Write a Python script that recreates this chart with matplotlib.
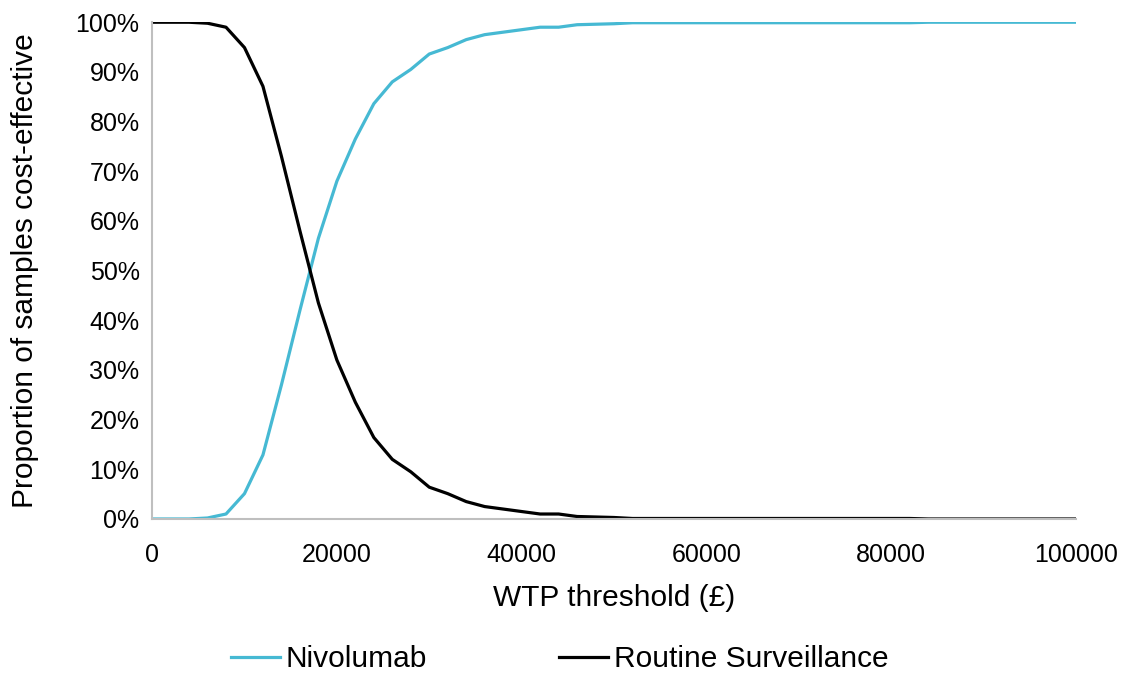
import matplotlib.pyplot as plt
from matplotlib.ticker import FuncFormatter

plt.rcParams['font.family'] = ['Liberation Sans', 'DejaVu Sans']

# WTP thresholds, every 2000 from 0 to 100000
wtp = list(range(0, 100001, 2000))

# proportion cost-effective (%)
nivolumab = [0, 0, 0, 0.2, 1.0, 5.1, 12.9, 27, 42, 56.5, 68, 76.5, 83.6, 88, 90.5,
             93.6, 94.9, 96.5, 97.5, 98, 98.5, 99, 99, 99.5, 99.6, 99.7, 99.9,
             99.9, 99.9, 99.9, 99.9, 99.9, 99.9, 99.9, 99.9, 99.9, 99.9, 99.9,
             99.9, 99.9, 99.9, 99.9, 100, 100, 100, 100, 100, 100, 100, 100, 100]
surveillance = [100, 100, 100, 99.8, 99.0, 94.9, 87.1, 73, 58, 43.5, 32, 23.5, 16.4, 12,
                9.5, 6.4, 5.1, 3.5, 2.5, 2, 1.5, 1.0, 1.0, 0.5, 0.4, 0.3, 0.1,
                0.1, 0.1, 0.1, 0.1, 0.1, 0.1, 0.1, 0.1, 0.1, 0.1, 0.1,
                0.1, 0.1, 0.1, 0.1, 0, 0, 0, 0, 0, 0, 0, 0, 0]

fig = plt.figure(figsize=(11.35, 6.74), dpi=100)
ax = fig.add_axes([0.134, 0.23, 0.814, 0.737])

ax.plot(wtp, nivolumab, color='#46B9D3', lw=2.3, label='Nivolumab')
ax.plot(wtp, surveillance, color='black', lw=2.3, label='Routine Surveillance')

ax.set_xlim(0, 100000)
ax.set_ylim(0, 100)
ax.set_xticks(range(0, 100001, 20000))
ax.set_yticks(range(0, 101, 10))
ax.yaxis.set_major_formatter(FuncFormatter(lambda v, p: '%d%%' % v))
ax.tick_params(length=0, labelsize=18)
ax.tick_params(axis='x', pad=17)
ax.tick_params(axis='y', pad=9)
for s in ['top', 'right']:
    ax.spines[s].set_visible(False)
for s in ['left', 'bottom']:
    ax.spines[s].set_color('#BFBFBF')
    ax.spines[s].set_linewidth(1.5)

ax.set_xlabel('WTP threshold (£)', fontsize=21.5)
ax.set_ylabel('Proportion of samples cost-effective', fontsize=21.5)
ax.xaxis.set_label_coords(0.5, -0.13)
ax.yaxis.set_label_coords(-0.122, 0.5)

fig.legend(loc='center', bbox_to_anchor=(0.493, 0.022), ncol=2, frameon=False,
           fontsize=21.5, columnspacing=4.4, handlelength=1.65, handletextpad=0.2)

fig.savefig('out.png', dpi=100)
